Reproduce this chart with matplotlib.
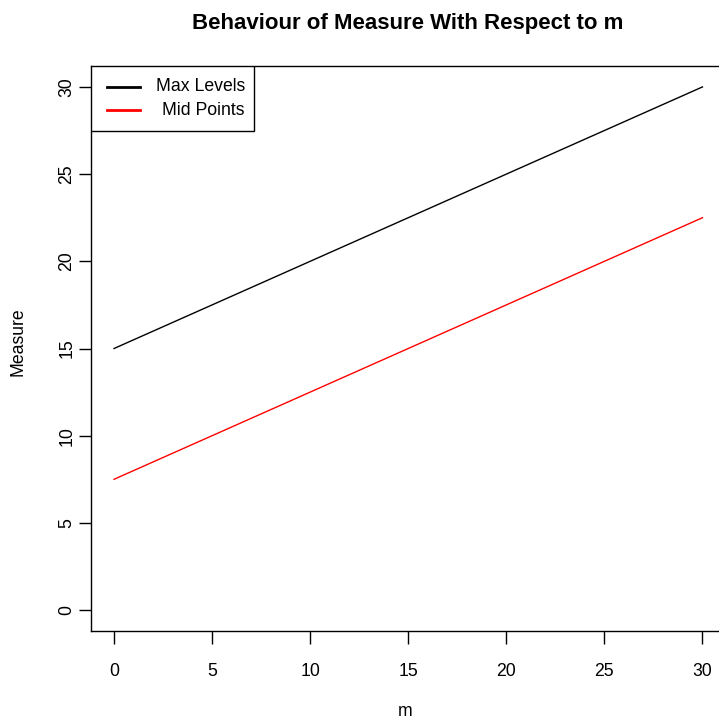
import matplotlib
matplotlib.use("Agg")
import matplotlib.pyplot as plt
from matplotlib.patches import Rectangle

plt.rcParams['font.family'] = ['Liberation Sans', 'DejaVu Sans']

# values of m and the two measures
m = [0, 5, 10, 15, 20, 25, 30]
max_levels = [15, 17.5, 20, 22.5, 25, 27.5, 30]
mid_points = [7.5, 10, 12.5, 15, 17.5, 20, 22.5]
series_names = ['Max Levels', 'Mid Points']
series_colors = ['black', 'red']

fig = plt.figure(figsize=(7.19, 7.19), dpi=100)
ax = fig.add_axes([90.5 / 719, 88 / 719, 635.5 / 719, 565 / 719])

ax.plot(m, max_levels, color=series_colors[0], lw=1)
ax.plot(m, mid_points, color=series_colors[1], lw=1)

ax.set_xlim(-1.2, 31.2)
ax.set_ylim(-1.2, 31.2)
ax.set_xticks([0, 5, 10, 15, 20, 25, 30])
ax.set_yticks([0, 5, 10, 15, 20, 25, 30])
ax.tick_params(direction='out', length=9, width=1, labelsize=12.7)
ax.tick_params(axis='x', pad=14)
ax.tick_params(axis='y', pad=2)
for lbl in ax.get_yticklabels():
    lbl.set_rotation(90)
    lbl.set_va('center')
for sp in ax.spines.values():
    sp.set_color('black')
    sp.set_linewidth(1)

fig.text(408 / 719, 1 - 23 / 719, 'Behaviour of Measure With Respect to m',
         ha='center', va='center', fontsize=16, fontweight='bold')
fig.text(405 / 719, 1 - 712 / 719, 'm', ha='center', va='center', fontsize=12.7)
fig.text(18 / 719, 1 - 342 / 719, 'Measure', ha='center', va='center',
         rotation=90, fontsize=12.7)

# legend box in the top-left corner
ax.add_patch(Rectangle((0, 0.885), 0.257, 0.115, transform=ax.transAxes,
                       facecolor='white', edgecolor='black', lw=1, zorder=5))
for i, (name, col) in enumerate(zip(series_names, series_colors)):
    y = 0.963 - i * 0.041
    ax.plot([0.026, 0.078], [y, y], color=col, lw=2, transform=ax.transAxes,
            zorder=6, clip_on=False)
    ax.text(0.243, y, name, transform=ax.transAxes, ha='right', va='center',
            fontsize=12.7, zorder=6)

fig.savefig('out.png', dpi=100)
